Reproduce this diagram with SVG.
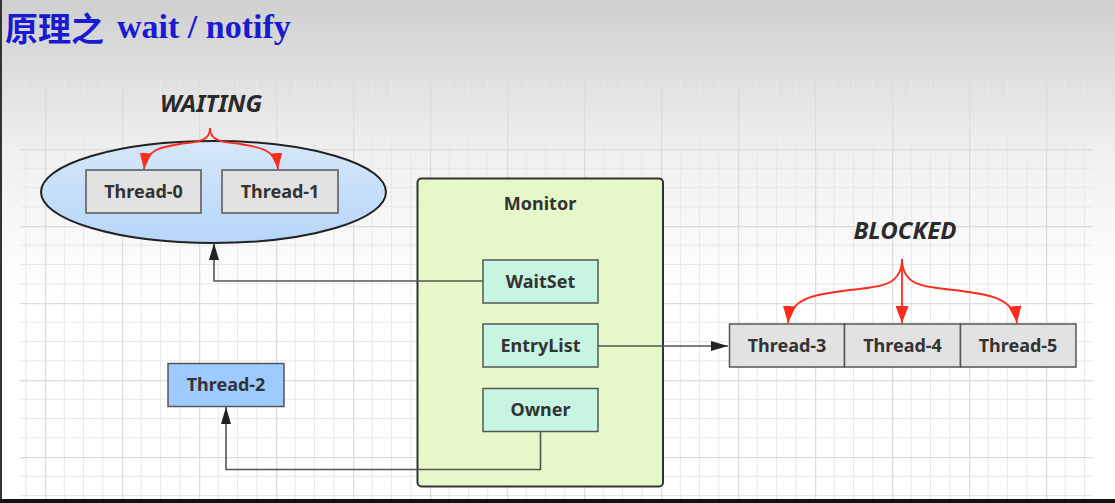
<svg xmlns="http://www.w3.org/2000/svg" width="1115" height="503" viewBox="0 0 1115 503">
<defs>
<linearGradient id="bg" x1="0" y1="0" x2="0" y2="1">
<stop offset="0" stop-color="#cfcfcf"/>
<stop offset="0.32" stop-color="#f1f1f1"/>
<stop offset="0.6" stop-color="#ffffff"/>
<stop offset="1" stop-color="#ffffff"/>
</linearGradient>
<linearGradient id="ell" x1="0" y1="0" x2="0" y2="1">
<stop offset="0" stop-color="#d6e7f8"/>
<stop offset="1" stop-color="#b6d6f9"/>
</linearGradient>
<pattern id="grid" patternUnits="userSpaceOnUse" x="45" y="72" width="77" height="77">
<path d="M19.25,0V77M38.5,0V77M57.75,0V77M0,19.25H77M0,38.5H77M0,57.75H77" stroke="#e8e8e8" stroke-width="1" fill="none"/>
<path d="M0.5,0V77M0,0.5H77" stroke="#dcdcdc" stroke-width="1.5" fill="none"/>
</pattern>
<marker id="ah" markerUnits="userSpaceOnUse" markerWidth="17" markerHeight="10" refX="17" refY="5" orient="auto">
<path d="M0,0 L17,5 L0,10 z" fill="#222"/>
</marker>
<marker id="rh" markerUnits="userSpaceOnUse" markerWidth="17" markerHeight="13" refX="17" refY="6.5" orient="auto">
<path d="M0,0 L17,6.5 L0,13 z" fill="#ff2a1a"/>
</marker>
<marker id="rhs" markerUnits="userSpaceOnUse" markerWidth="16" markerHeight="12" refX="16" refY="6" orient="auto">
<path d="M0,0 L16,6 L0,12 z" fill="#ff2a1a"/>
</marker>
</defs>
<style>
.lbl{font-family:"Noto Sans","Open Sans","DejaVu Sans",sans-serif;font-weight:bold;font-size:18px;fill:#333;text-anchor:middle}
.state{font-family:"Noto Sans","Open Sans","DejaVu Sans",sans-serif;font-weight:bold;font-style:italic;font-size:24px;fill:#2a2a2a;text-anchor:middle}
.gbox{fill:#e2e2e2;stroke:#555;stroke-width:1.5}
.mbox{fill:#c8f5e2;stroke:#555;stroke-width:1.5}
.conn{fill:none;stroke:#555;stroke-width:1.6}
.red{fill:none;stroke:#ff2a1a;stroke-width:1.8}
</style>

<rect x="0" y="0" width="1115" height="503" fill="url(#bg)"/>
<rect x="20" y="78" width="1073" height="421" fill="url(#grid)"/>
<rect x="0" y="0" width="2" height="503" fill="#333"/>
<rect x="0" y="499" width="1115" height="4" fill="#111"/>

<g id="title">
<text x="5" y="41" font-family="'Noto Sans CJK SC',sans-serif" font-weight="bold" font-size="33" fill="#1a1ad2">原理之</text>
<text x="117" y="38" font-family="'Liberation Serif','Times New Roman',serif" font-weight="bold" font-size="34" fill="#1a1ad2">wait / notify</text>
</g>

<g id="waiting-label">
<text class="state" x="211" y="112">WAITING</text>
</g>

<g id="waiting-set">
<ellipse cx="213.5" cy="192" rx="172.5" ry="51" fill="url(#ell)" stroke="#222" stroke-width="2"/>
</g>

<g id="thread-0">
<rect class="gbox" x="86" y="170" width="115" height="43"/>
<text class="lbl" x="143.5" y="198">Thread-0</text>
</g>
<g id="thread-1">
<rect class="gbox" x="222" y="170" width="116" height="43"/>
<text class="lbl" x="280" y="198">Thread-1</text>
</g>

<g id="monitor">
<rect x="417.5" y="178.5" width="245.5" height="308" rx="4" fill="#e6f8c9" stroke="#333" stroke-width="2"/>
<text class="lbl" x="540" y="210">Monitor</text>
</g>
<g id="waitset">
<rect class="mbox" x="483" y="260" width="115" height="43"/>
<text class="lbl" x="540.5" y="288">WaitSet</text>
</g>
<g id="entrylist">
<rect class="mbox" x="483" y="324" width="115" height="43"/>
<text class="lbl" x="540.5" y="352">EntryList</text>
</g>
<g id="owner">
<rect class="mbox" x="483" y="388.5" width="115" height="43"/>
<text class="lbl" x="540.5" y="416">Owner</text>
</g>

<g id="thread-2">
<rect x="168" y="363.5" width="116" height="43" fill="#9dcbff" stroke="#555" stroke-width="1.5"/>
<text class="lbl" x="226" y="391">Thread-2</text>
</g>

<g id="blocked-label">
<text class="state" x="905" y="239">BLOCKED</text>
</g>
<g id="thread-3">
<rect class="gbox" x="729.5" y="324" width="115" height="43"/>
<text class="lbl" x="787" y="352">Thread-3</text>
</g>
<g id="thread-4">
<rect class="gbox" x="844.5" y="324" width="116" height="43"/>
<text class="lbl" x="902.5" y="352">Thread-4</text>
</g>
<g id="thread-5">
<rect class="gbox" x="960.5" y="324" width="115.5" height="43"/>
<text class="lbl" x="1018" y="352">Thread-5</text>
</g>

<g id="connectors">
<path class="conn" d="M483,281 H214 V243" marker-end="url(#ah)"/>
<path class="conn" d="M598,346 H728" marker-end="url(#ah)"/>
<path class="conn" d="M540.5,431.5 V469.5 H226 V407" marker-end="url(#ah)"/>
<path class="red" d="M210,128 C210,142 196,142 180,144 C160,147 146,150 144,169" marker-end="url(#rhs)"/>
<path class="red" d="M210,128 C210,142 224,142 240,144 C260,147 276,150 278,169" marker-end="url(#rhs)"/>
<path class="red" d="M902,259 C902,285 882,287 850,290 C815,294 790,298 788,323" marker-end="url(#rh)"/>
<path class="red" d="M902,259 V323" marker-end="url(#rh)"/>
<path class="red" d="M902,259 C902,285 922,287 954,290 C989,294 1014,298 1017,323" marker-end="url(#rh)"/>
</g>
</svg>
